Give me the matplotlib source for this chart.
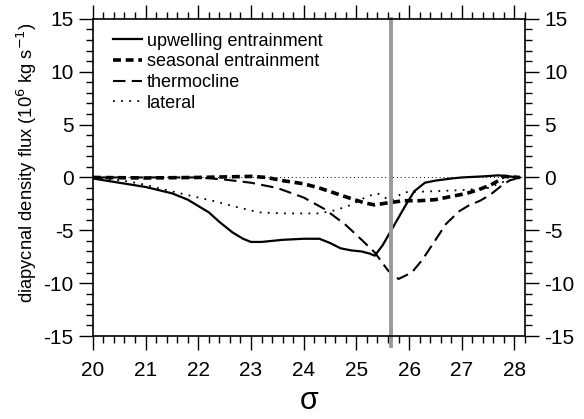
import numpy as np
import matplotlib.pyplot as plt
from matplotlib.ticker import MultipleLocator

plt.rcParams['font.family'] = ['Liberation Sans', 'DejaVu Sans']
plt.rcParams['axes.unicode_minus'] = False

# density classes (sigma) and the four flux terms, 10^6 kg/s
sig_up = [20.0, 20.5, 21.0, 21.5, 21.8, 22.0, 22.2, 22.4, 22.65, 22.85, 23.0, 23.2, 23.4, 23.6,
          24.0, 24.3, 24.5, 24.7, 24.9, 25.1, 25.25, 25.35, 25.5, 25.65, 25.8, 25.95, 26.1,
          26.3, 26.5, 26.8, 27.0, 27.4, 27.7, 27.9, 28.1]
upwelling = [-0.1, -0.5, -0.9, -1.5, -2.1, -2.7, -3.3, -4.2, -5.2, -5.8, -6.1, -6.1, -6.0, -5.9,
             -5.8, -5.8, -6.2, -6.7, -6.9, -7.0, -7.2, -7.4, -6.4, -5.1, -3.8, -2.5, -1.3,
             -0.5, -0.3, -0.1, 0.0, 0.1, 0.2, 0.1, 0.0]

sig_sea = [20.0, 21.0, 22.0, 23.0, 23.3, 23.6, 24.0, 24.3, 24.6, 24.9, 25.15, 25.35, 25.6,
           25.9, 26.2, 26.5, 26.8, 27.1, 27.35, 27.55, 27.7, 27.8, 28.1]
seasonal = [0.0, -0.05, 0.0, 0.1, 0.0, -0.3, -0.6, -1.0, -1.5, -2.0, -2.4, -2.6, -2.4,
            -2.2, -2.2, -2.1, -1.8, -1.5, -1.1, -0.7, -0.3, 0.1, 0.0]

sig_th = [20.0, 21.0, 22.0, 22.5, 23.0, 23.5, 24.0, 24.4, 24.8, 25.1, 25.35, 25.6, 25.8,
          26.05, 26.25, 26.45, 26.7, 26.95, 27.15, 27.35, 27.55, 27.75, 27.9, 28.1]
thermocline = [0.0, 0.0, 0.0, -0.2, -0.5, -1.0, -1.9, -3.0, -4.5, -5.9, -7.1, -8.8, -9.6,
               -9.0, -7.8, -6.3, -4.4, -3.2, -2.6, -2.2, -1.6, -0.8, -0.3, 0.0]

sig_lat = [20.0, 20.4, 20.7, 21.0, 21.4, 22.0, 22.35, 22.65, 22.9, 23.15, 23.6, 24.0, 24.3,
           24.6, 24.9, 25.2, 25.4, 25.65, 25.9, 26.5, 27.0, 27.5, 27.8, 28.1]
lateral = [-0.1, -0.2, -0.4, -0.7, -1.2, -1.9, -2.3, -2.7, -3.0, -3.3, -3.4, -3.4, -3.4,
           -3.1, -2.6, -1.8, -1.5, -2.2, -1.4, -1.3, -1.2, -1.0, -0.4, 0.0]

front_sigma = 25.66

fig = plt.figure(figsize=(5.84, 4.19), dpi=100)
ax = fig.add_axes([0.159, 0.198, 0.74, 0.757])

ax.axhline(0, color='black', lw=0.7, ls=(0, (1, 3)))
ax.plot(sig_up, upwelling, color='black', lw=1.6, label='upwelling entrainment')
ax.plot(sig_sea, seasonal, color='black', lw=2.6, ls=(0, (2.2, 1.3)), label='seasonal entrainment')
ax.plot(sig_th, thermocline, color='black', lw=1.5, ls=(0, (6, 3)), label='thermocline')
ax.plot(sig_lat, lateral, color='black', lw=1.3, ls=(0, (1, 3.5)), label='lateral')
ax.axvline(front_sigma, ymin=-0.03, ymax=1.0, color='#9a9a9a', lw=2.8, clip_on=False)

ax.set_xlim(20, 28.2)
ax.set_ylim(-15, 15)
ax.xaxis.set_major_locator(MultipleLocator(1))
ax.xaxis.set_minor_locator(MultipleLocator(0.2))
ax.yaxis.set_major_locator(MultipleLocator(5))
ax.yaxis.set_minor_locator(MultipleLocator(1))
ax.tick_params(which='both', direction='out', top=True, right=True, labelright=True,
               labelsize=15, width=1)
ax.tick_params(which='major', length=10)
ax.tick_params(which='minor', length=5)
ax.tick_params(axis='x', pad=8)
ax.tick_params(axis='y', pad=4)
for s in ax.spines.values():
    s.set_linewidth(1.2)

ax.set_ylabel('diapycnal density flux (10$^6$ kg s$^{-1}$)', fontsize=13.2)
ax.yaxis.set_label_coords(-0.125, 0.546)
ax.set_xlabel('σ', fontsize=22, labelpad=4)

ax.legend(loc='upper left', frameon=False, fontsize=13, handlelength=1.6,
          handletextpad=0.3, labelspacing=0.2, borderaxespad=0, borderpad=0,
          bbox_to_anchor=(0.046, 0.956))

fig.savefig('out.png', dpi=100)
